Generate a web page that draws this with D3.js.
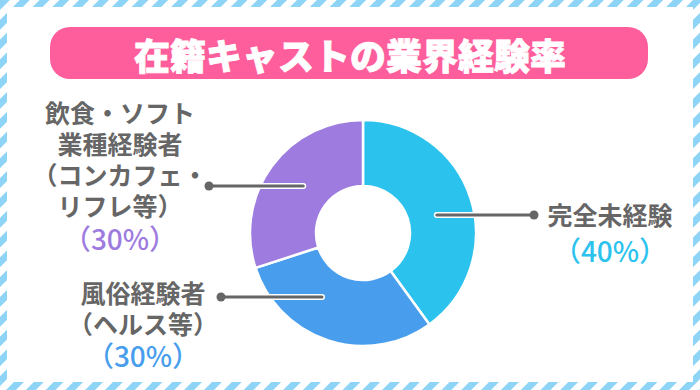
<!DOCTYPE html>
<html lang="ja">
<head>
  <meta charset="utf-8">
  <title>在籍キャストの業界経験率</title>
  <script src="https://d3js.org/d3.v7.min.js"></script>
  <style>
    body { margin: 0; background: #fff; }
    svg { display: block; font-family: "Noto Sans CJK JP", "Noto Sans", sans-serif; }
  </style>
</head>
<body>
<script>
// data
var title = "在籍キャストの業界経験率";
var categories = ["完全未経験", "風俗経験者（ヘルス等）", "飲食・ソフト業種経験者（コンカフェ・リフレ等）"];
var values = [40, 30, 30];
var labelLines = [
  ["完全未経験"],
  ["風俗経験者", "（ヘルス等）"],
  ["飲食・ソフト", "業種経験者", "（コンカフェ・", "リフレ等）"]
];
var colors = ["#2bc2ee", "#489eec", "#9e7bdf"];

var w = 700, h = 390;
var cx = 363, cy = 233;
var rOuter = 113, rInner = 47, rLeader = 76;

// label placement (line y offset from centre, dot x, text centre x, first line y, line step, percent y)
var layout = [
  { dy: -18, dotX: 534, tx: 610, ty: 214, step: 31, py: 250 },
  { dy: 64, dotX: 221, tx: 143, ty: 292, step: 31, py: 355 },
  { dy: -47, dotX: 209, tx: 120, ty: 112, step: 31, py: 238 }
];

var svg = d3.select("body").append("svg")
  .attr("width", w)
  .attr("height", h);

// striped frame
var defs = svg.append("defs");
var pat = defs.append("pattern")
  .attr("id", "stripes")
  .attr("patternUnits", "userSpaceOnUse")
  .attr("width", 14)
  .attr("height", 14)
  .attr("patternTransform", "rotate(45)");
pat.append("rect").attr("width", 14).attr("height", 14).attr("fill", "#fff");
pat.append("rect").attr("width", 7).attr("height", 14).attr("fill", "#8dd4f6");

svg.append("rect").attr("width", w).attr("height", h).attr("fill", "url(#stripes)");
svg.append("rect")
  .attr("x", 7).attr("y", 7)
  .attr("width", w - 14).attr("height", h - 15)
  .attr("fill", "#fff");

// title bar
svg.append("rect")
  .attr("x", 50).attr("y", 27)
  .attr("width", 598).attr("height", 52)
  .attr("rx", 20)
  .attr("fill", "#ff5e9c");
svg.append("text")
  .attr("x", 350).attr("y", 54)
  .attr("text-anchor", "middle")
  .attr("dominant-baseline", "central")
  .attr("fill", "#fff")
  .attr("stroke", "#fff")
  .attr("stroke-width", 0.8)
  .attr("font-size", 36)
  .attr("font-weight", 900)
  .text(title);

// donut
var pie = d3.pie().sort(null).value(function(d) { return d; });
var arc = d3.arc().innerRadius(rInner).outerRadius(rOuter);
var arcs = pie(values);

var g = svg.append("g").attr("transform", "translate(" + cx + "," + cy + ")");
g.selectAll("path")
  .data(arcs)
  .enter()
  .append("path")
  .attr("d", arc)
  .attr("fill", function(d, i) { return colors[i]; })
  .attr("stroke", "#fff")
  .attr("stroke-width", 2.5);

// leader lines + labels
arcs.forEach(function(d, i) {
  var L = layout[i];
  var mid = (d.startAngle + d.endAngle) / 2;
  var side = Math.sin(mid) >= 0 ? 1 : -1;
  var x0 = cx + side * Math.sqrt(rLeader * rLeader - L.dy * L.dy);
  var y0 = cy + L.dy;

  svg.append("line")
    .attr("x1", x0).attr("y1", y0).attr("x2", L.dotX).attr("y2", y0)
    .attr("stroke", "#fff").attr("stroke-width", 6).attr("stroke-linecap", "round");
  svg.append("line")
    .attr("x1", x0).attr("y1", y0).attr("x2", L.dotX).attr("y2", y0)
    .attr("stroke", "#666").attr("stroke-width", 3).attr("stroke-linecap", "round");
  svg.append("circle")
    .attr("cx", L.dotX).attr("cy", y0).attr("r", 4.5)
    .attr("fill", "#666");

  var t = svg.append("g").attr("text-anchor", "middle");
  t.selectAll("text.name")
    .data(labelLines[i])
    .enter()
    .append("text")
    .attr("class", "name")
    .attr("x", L.tx)
    .attr("y", function(s, k) { return L.ty + k * L.step; })
    .attr("dominant-baseline", "central")
    .attr("fill", "#666")
    .attr("font-size", 25)
    .attr("font-weight", 700)
    .text(function(s) { return s; });
  t.append("text")
    .attr("x", L.tx)
    .attr("y", L.py)
    .attr("dominant-baseline", "central")
    .attr("fill", colors[i])
    .attr("font-size", 28)
    .attr("font-weight", 500)
    .text("（" + values[i] + "%）");
});
</script>
</body>
</html>
